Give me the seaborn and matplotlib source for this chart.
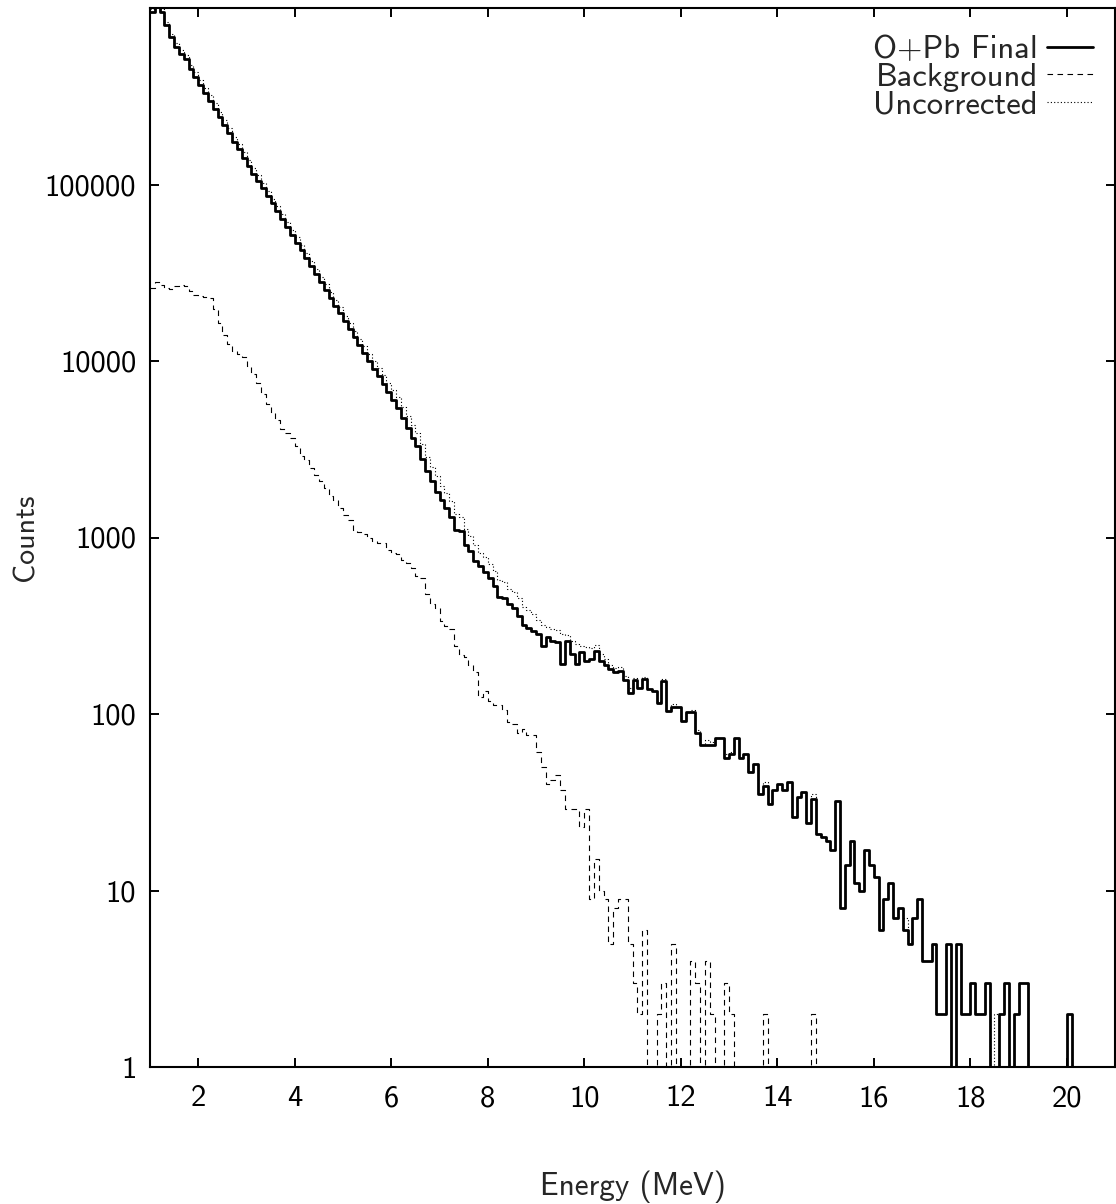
import numpy as np
import pandas as pd
import seaborn as sns
import matplotlib
matplotlib.use("Agg")
import matplotlib.pyplot as plt
from matplotlib.lines import Line2D

# 0.1 MeV bins starting at 1 MeV
e_start = 1.0
bin_width = 0.1

final_counts = [
    953000, 1150000, 953000, 800000, 686000, 601000, 551000, 516000, 451000, 406000,
    365000, 329000, 296000, 267000, 240000, 216000, 195000, 175000, 158000, 142000,
    128000, 115000, 105000, 96000, 86600, 78200, 70600, 63700, 57500, 51900,
    46800, 42300, 38100, 34400, 31000, 28000, 25300, 22800, 20600, 18600,
    16800, 15100, 13700, 12300, 11100, 10000, 9060, 8170, 7370, 6650,
    6000, 5420, 4780, 4190, 3670, 3290, 2800, 2380, 2080, 1820,
    1635, 1465, 1314, 1100, 1090, 906, 835, 735, 690, 638,
    590, 530, 460, 455, 420, 400, 360, 320, 308, 295,
    284, 244, 272, 260, 255, 192, 260, 219, 192, 224,
    200, 205, 227, 200, 190, 180, 174, 176, 155, 132,
    156, 141, 157, 138, 135, 116, 154, 104, 109, 109,
    91, 102, 102, 78, 67, 67, 67, 73, 73, 56,
    59, 73, 56, 59, 47, 52, 35, 39, 31, 37,
    40, 37, 41, 26, 34, 36, 24, 33, 21, 20,
    19, 17, 32, 8, 14, 19, 11, 10, 17, 14,
    12, 6, 9, 11, 7, 8, 6, 5, 7, 9,
    4, 4, 5, 2, 2, 5, 0, 5, 2, 2,
    3, 2, 2, 3, 0, 0, 2, 3, 0, 2,
    3, 3, 0, 0, 0, 0, 0, 0, 0, 0,
    2, 0, 0, 0, 0, 0, 0, 0, 0, 0,
]

background_counts = [
    26000, 28000, 27000, 25800, 25500, 26500, 27000, 26700, 25000, 23800,
    23500, 23100, 22800, 19800, 16500, 13960, 12500, 11460, 11000, 10500,
    9420, 8440, 7500, 6490, 5690, 5100, 4630, 4130, 3920, 3640,
    3300, 2890, 2740, 2480, 2270, 2080, 1905, 1710, 1630, 1470,
    1340, 1260, 1100, 1070, 1040, 990, 960, 935, 925, 850,
    819, 810, 744, 720, 676, 603, 590, 476, 421, 400,
    336, 317, 303, 244, 215, 209, 190, 172, 125, 135,
    119, 113, 113, 105, 90, 88, 78, 82, 76, 76,
    61, 50, 40, 42, 45, 37, 29, 29, 29, 23,
    29, 9, 15, 10, 9, 5, 8, 9, 9, 5,
    3, 2, 6, 0, 0, 2, 3, 0, 5, 0,
    0, 0, 4, 3, 0, 4, 2, 0, 0, 3,
    2, 0, 0, 0, 0, 0, 0, 2, 0, 0,
    0, 0, 0, 0, 0, 0, 0, 2, 0, 0,
    0, 0, 0, 0, 0, 0, 0, 0, 0, 0,
    0, 0, 0, 0, 0, 0, 0, 0, 0, 0,
    0, 0, 0, 0, 0, 0, 0, 0, 0, 0,
    0, 0, 0, 0, 0, 0, 0, 0, 0, 0,
    0, 0, 0, 0, 0, 0, 0, 0, 0, 0,
    0, 0, 0, 0, 0, 0, 0, 0, 0, 0,
]

uncorrected_counts = [
    990000, 1200000, 990000, 830000, 715000, 630000, 580000, 545000, 478000, 432000,
    390000, 353000, 320000, 288000, 258000, 231000, 208000, 187000, 169000, 153000,
    137500, 124000, 112500, 102500, 92300, 83300, 75200, 67800, 61400, 55500,
    50100, 45200, 40800, 36900, 33300, 30100, 27200, 24500, 22200, 20100,
    18100, 16400, 14800, 13400, 12100, 11000, 10000, 9100, 8300, 7500,
    6820, 6230, 5520, 4910, 4350, 3890, 3390, 2860, 2500, 2220,
    1970, 1780, 1620, 1350, 1300, 1115, 1025, 905, 815, 773,
    709, 643, 573, 560, 510, 490, 455, 405, 387, 371,
    340, 318, 312, 305, 300, 285, 280, 260, 249, 244,
    240, 236, 245, 219, 205, 190, 182, 185, 164, 140,
    159, 143, 163, 138, 135, 118, 157, 104, 114, 109,
    91, 102, 106, 81, 67, 71, 69, 73, 73, 59,
    61, 73, 56, 59, 47, 52, 35, 41, 31, 37,
    40, 37, 41, 26, 34, 36, 24, 35, 21, 20,
    19, 17, 32, 8, 14, 19, 11, 10, 17, 14,
    12, 6, 9, 11, 7, 8, 7, 5, 7, 9,
    4, 4, 5, 2, 2, 5, 0, 5, 2, 2,
    3, 2, 2, 3, 0, 2, 2, 3, 0, 2,
    3, 3, 0, 0, 0, 0, 0, 0, 0, 0,
    2, 0, 0, 0, 0, 0, 0, 0, 0, 0,
]

series_labels = ["O+Pb Final", "Background", "Uncorrected"]
xticks = [2, 4, 6, 8, 10, 12, 14, 16, 18, 20]
yticks = [1, 10, 100, 1000, 10000, 100000]
ytick_labels = ["1", "10", "100", "1000", "10000", "100000"]

sns.set_theme(style="ticks")
plt.rcParams["font.family"] = ["cmss10", "DejaVu Sans"]
plt.rcParams["axes.unicode_minus"] = False
plt.rcParams["font.size"] = 22

n = len(final_counts)
edges = np.round(e_start + bin_width * np.arange(n + 1), 2)
centers = (edges[:-1] + edges[1:]) / 2
df = pd.DataFrame({
    "energy": centers,
    "final": final_counts,
    "background": background_counts,
    "uncorrected": uncorrected_counts,
})

fig = plt.figure(figsize=(11.16, 12.04), dpi=100)
ax = fig.add_axes([150 / 1116, 1 - 1067 / 1204, 965 / 1116, 1059 / 1204])

styles = {
    "uncorrected": dict(linewidth=0.8, linestyle=(0, (1, 2))),
    "background": dict(linewidth=0.8, linestyle=(0, (5, 4))),
    "final": dict(linewidth=2.0, linestyle="-"),
}
for col in ["uncorrected", "background", "final"]:
    sns.histplot(data=df, x="energy", weights=col, bins=edges.tolist(), element="step",
                 fill=False, color="black", ax=ax, **styles[col])

ax.set_yscale("log")
ax.set_xlim(1, 21)
ax.set_ylim(1, 1e6)
ax.set_xticks(xticks)
ax.set_xticklabels([str(t) for t in xticks])
ax.set_yticks(yticks)
ax.set_yticklabels(ytick_labels)
ax.minorticks_off()
ax.tick_params(direction="in", length=6.5, width=1.4, top=True, right=True,
               labelsize=22, colors="black")
ax.tick_params(axis="x", pad=13)
ax.tick_params(axis="y", pad=10)
for sp in ax.spines.values():
    sp.set_visible(True)
    sp.set_linewidth(1.5)
    sp.set_color("black")

ax.set_xlabel("Energy (MeV)", fontsize=22.5)
ax.set_ylabel("Counts", fontsize=21.5)
ax.xaxis.set_label_coords(0.5, -0.098)
ax.yaxis.set_label_coords(-0.114, 0.5)

handles = [
    Line2D([], [], color="black", **styles["final"]),
    Line2D([], [], color="black", **styles["background"]),
    Line2D([], [], color="black", **styles["uncorrected"]),
]
ax.legend(handles, series_labels, loc="upper right", frameon=False,
          markerfirst=False, fontsize=23.5, handlelength=1.4, handletextpad=0.28,
          labelspacing=-0.04, borderaxespad=0.43, bbox_to_anchor=(1.005, 1.0))

fig.savefig("out.png", dpi=100)
